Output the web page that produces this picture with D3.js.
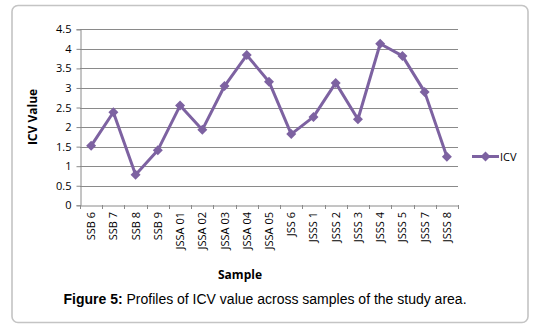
<!DOCTYPE html>
<html><head><meta charset="utf-8">
<script src="https://cdn.jsdelivr.net/npm/d3@7"></script>
<style>body{margin:0;background:#fff;}svg{display:block;}</style>
</head><body>
<svg id="c" width="534" height="328"></svg>
<script>
const categories = ["SSB 6","SSB 7","SSB 8","SSB 9","JSSA 01","JSSA 02","JSSA 03","JSSA 04","JSSA 05","JSS 6","JSSS 1","JSSS 2","JSSS 3","JSSS 4","JSSS 5","JSSS 7","JSSS 8"];
const icvValues = [1.52,2.38,0.78,1.41,2.55,1.93,3.05,3.84,3.16,1.82,2.26,3.13,2.2,4.13,3.82,2.9,1.24];
const yTicks = [0,0.5,1,1.5,2,2.5,3,3.5,4,4.5];
const seriesName = "ICV";

const svg = d3.select("#c");
const color = "#7D62A1";
const font = "'Open Sans', 'Liberation Sans', sans-serif";

svg.append("rect").attr("x",12).attr("y",5.5).attr("width",516).attr("height",317)
  .attr("rx",6).attr("fill","#fff").attr("stroke","#c4c4c4").attr("stroke-width",1.6);

const m = {l:80, r:458, t:29.3, b:205.3};
const x = d3.scaleBand().domain(categories).range([m.l, m.r]);
const y = d3.scaleLinear().domain([0,4.5]).range([m.b, m.t]);

// gridlines
svg.append("g").selectAll("line").data(yTicks.filter(d=>d>0)).join("line")
  .attr("x1",m.l).attr("x2",m.r).attr("y1",d=>Math.round(y(d))+0.5).attr("y2",d=>Math.round(y(d))+0.5)
  .attr("stroke","#8a8a8a").attr("stroke-width",1);

// y axis
const yAxis = svg.append("g").attr("transform",`translate(${m.l+0.5},0)`)
  .call(d3.axisLeft(y).tickValues(yTicks).tickSize(4).tickPadding(5).tickFormat(d=>String(d)));
yAxis.select(".domain").attr("stroke","#8a8a8a");
yAxis.selectAll(".tick line").attr("stroke","#8a8a8a");
yAxis.selectAll("text").attr("font-family",font).attr("font-size",11).attr("fill","#000");

// x axis
const xAxis = svg.append("g").attr("transform",`translate(0,${Math.round(m.b)+0.5})`)
  .call(d3.axisBottom(x).tickSize(0).tickFormat(""));
xAxis.select(".domain").attr("stroke","#8a8a8a");
svg.append("g").selectAll("line").data(d3.range(categories.length+1)).join("line")
  .attr("x1",i=>Math.round(m.l + i*x.step())+0.5).attr("x2",i=>Math.round(m.l + i*x.step())+0.5)
  .attr("y1",Math.round(m.b)).attr("y2",Math.round(m.b)+4).attr("stroke","#8a8a8a");
svg.append("g").selectAll("text").data(categories).join("text")
  .attr("transform",d=>`translate(${x(d)+x.bandwidth()/2+4},212) rotate(-90)`)
  .attr("text-anchor","end").attr("font-family",font).attr("font-size",11).attr("fill","#000")
  .text(d=>d);

// line
const line = d3.line().x((d,i)=>x(categories[i])+x.bandwidth()/2).y(d=>y(d));
svg.append("path").datum(icvValues).attr("d",line).attr("fill","none")
  .attr("stroke",color).attr("stroke-width",3).attr("stroke-linejoin","round");
const diamond = d3.symbol().type(d3.symbolSquare).size(50);
svg.append("g").selectAll("path").data(icvValues).join("path")
  .attr("d",diamond).attr("fill",color)
  .attr("transform",(d,i)=>`translate(${x(categories[i])+x.bandwidth()/2},${y(d)}) rotate(45)`);

// axis titles
svg.append("text").attr("transform","translate(37,117) rotate(-90)").attr("text-anchor","middle")
  .attr("font-family",font).attr("font-weight","bold").attr("font-size",12).text("ICV Value");
svg.append("text").attr("x",240).attr("y",279).attr("text-anchor","middle")
  .attr("font-family",font).attr("font-weight","bold").attr("font-size",12).text("Sample");

// legend
svg.append("line").attr("x1",472).attr("x2",499).attr("y1",156.5).attr("y2",156.5)
  .attr("stroke",color).attr("stroke-width",3);
svg.append("path").attr("d",diamond).attr("fill",color).attr("transform","translate(485.5,156.5) rotate(45)");
svg.append("text").attr("x",500).attr("y",160.5).attr("font-family",font).attr("font-size",11).text(seriesName);

// caption
const cap = svg.append("text").attr("x",265).attr("y",304).attr("text-anchor","middle")
  .attr("font-family","'Liberation Sans', Arial, sans-serif").attr("font-size",14);
cap.append("tspan").attr("font-weight","bold").text("Figure 5:");
cap.append("tspan").text(" Profiles of ICV value across samples of the study area.");
</script>
</body></html>
